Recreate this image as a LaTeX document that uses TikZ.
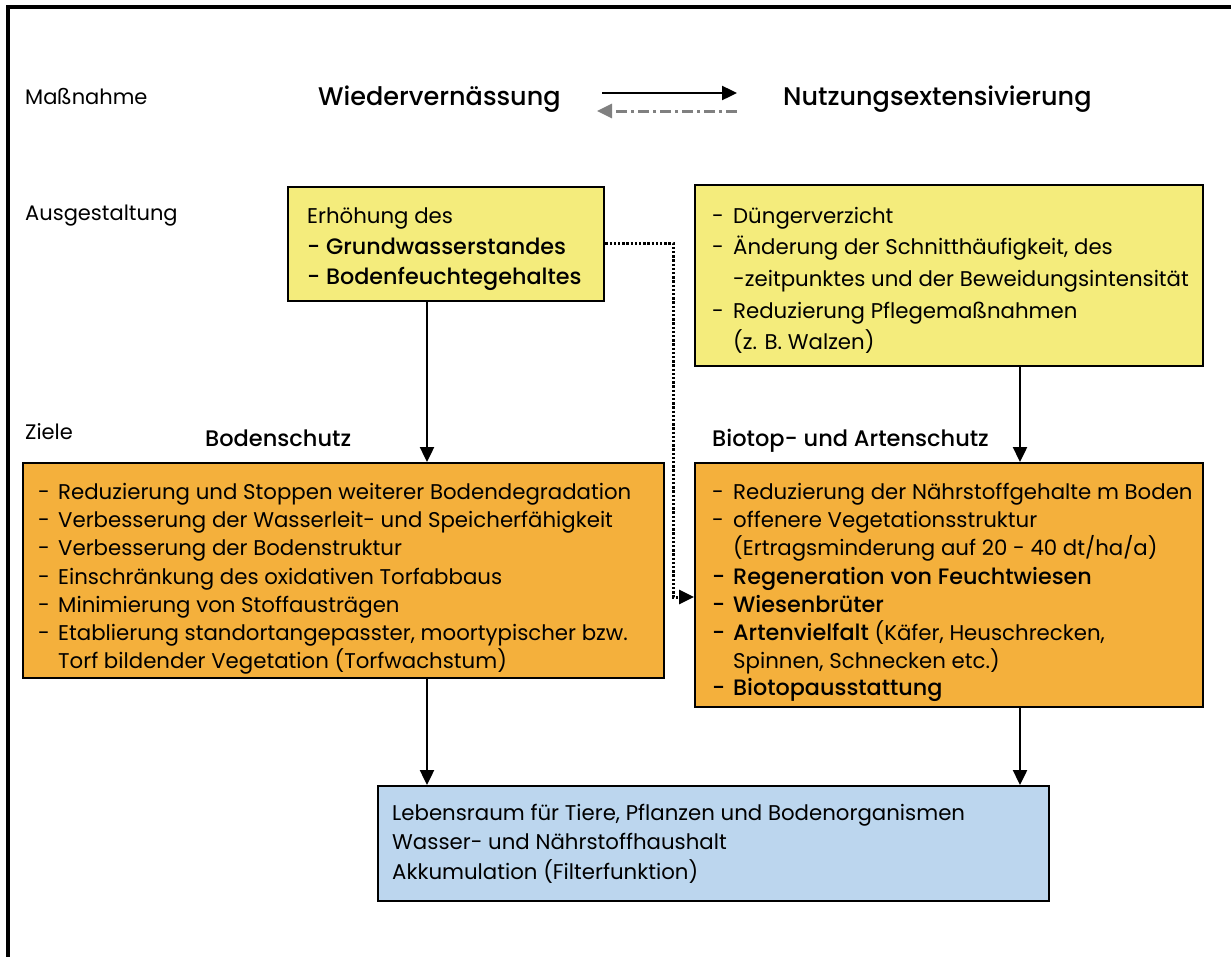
\documentclass[tikz,border=0pt]{standalone}
\usepackage{fontspec}
\setmainfont{Poppins}
\newfontfamily\med{Poppins Medium}
\usetikzlibrary{arrows.meta}
\definecolor{yel}{RGB}{244,236,124}
\definecolor{ora}{RGB}{244,176,60}
\definecolor{blu}{RGB}{188,214,238}
\definecolor{gry}{RGB}{128,128,128}
\tikzset{
  box/.style={draw=black, line width=2.4pt, anchor=north west, inner sep=0pt},
  txt/.style={anchor=base west, inner sep=0pt, font=\fontsize{21.3}{24}\selectfont},
  btxt/.style={anchor=base west, inner sep=0pt, font=\fontsize{22.3}{24}\selectfont\med},
  lbl/.style={anchor=base west, inner sep=0pt, font=\fontsize{21}{24}\selectfont},
  head/.style={anchor=base west, inner sep=0pt, font=\fontsize{25.5}{28}\selectfont\med},
  sub/.style={anchor=base west, inner sep=0pt, font=\fontsize{22.5}{26}\selectfont\med},
  arr/.style={line width=2.4pt, -{Triangle[length=15pt,width=14pt]}},
  dotline/.style={line width=3pt, dash pattern=on 2.4pt off 1.8pt, -{Triangle[length=15pt,width=14pt]}},
  dashdotarr/.style={line width=3pt, gry, dash pattern=on 11pt off 4pt on 3pt off 4pt, -{Triangle[length=15pt,width=14pt]}}
}
\newcommand{\dsh}{\makebox[21pt][l]{-}}
\begin{document}
\begin{tikzpicture}[x=1pt,y=-1pt]
\useasboundingbox (0,0) rectangle (1231,956);
% outer frame
\draw[line width=3.6pt] (8,1100) -- (8,7) -- (1400,7);

% row labels
\node[lbl] (lmass) at (25,104) {Maßnahme};
\node[lbl] (lausg) at (25,220) {Ausgestaltung};
\node[lbl] (lziel) at (25,439) {Ziele};

% top row
\node[head] (wied) at (318,105) {Wiedervernässung};
\node[head] (nutz) at (783,105) {Nutzungsextensivierung};
\coordinate (a1) at (602,93);
\coordinate (a2) at (737,93);
\coordinate (b1) at (737,111);
\coordinate (b2) at (597,111);
\draw[arr] (a1) -- (a2);
\draw[dashdotarr] (b1) -- (b2);

% boxes
\node[box, fill=yel, minimum width=316pt, minimum height=114pt] (y1) at (287,186) {};
\node[box, fill=yel, minimum width=508pt, minimum height=181pt] (y2) at (694,184) {};
\node[box, fill=ora, minimum width=641pt, minimum height=215pt] (o1) at (22,462) {};
\node[box, fill=ora, minimum width=508pt, minimum height=244pt] (o2) at (694,462) {};
\node[box, fill=blu, minimum width=671pt, minimum height=115pt] (bl) at (377,785) {};

% yellow 1 text
\node[txt] (y1a) at (307,223) {Erhöhung des};
\node[btxt] (y1b) at (307,254) {- Grundwasserstandes};
\node[btxt] (y1c) at (307,284) {- Bodenfeuchtegehaltes};

% yellow 2 text
\node[txt] (y2a) at (712,223) {\dsh Düngerverzicht};
\node[txt] (y2b) at (712,254) {\dsh Änderung der Schnitthäufigkeit, des};
\node[txt] (y2c) at (733,286) {-zeitpunktes und der Beweidungsintensität};
\node[txt] (y2d) at (712,318) {\dsh Reduzierung Pflegemaßnahmen};
\node[txt] (y2e) at (733,349) {(z. B. Walzen)};

% headings
\node[sub] (bs) at (205,446) {Bodenschutz};
\node[sub] (bas) at (712,446) {Biotop- und Artenschutz};

% orange 1 text
\node[txt] (o1a) at (38,499) {\makebox[20pt][l]{-}Reduzierung und Stoppen weiterer Bodendegradation};
\node[txt] (o1b) at (38,527) {\makebox[20pt][l]{-}Verbesserung der Wasserleit- und Speicherfähigkeit};
\node[txt] (o1c) at (38,555) {\makebox[20pt][l]{-}Verbesserung der Bodenstruktur};
\node[txt] (o1d) at (38,584) {\makebox[20pt][l]{-}Einschränkung des oxidativen Torfabbaus};
\node[txt] (o1e) at (38,612) {\makebox[20pt][l]{-}Minimierung von Stoffausträgen};
\node[txt] (o1f) at (38,640) {\makebox[20pt][l]{-}Etablierung standortangepasster, moortypischer bzw.};
\node[txt] (o1g) at (58,668) {Torf bildender Vegetation (Torfwachstum)};

% orange 2 text
\node[txt] (o2a) at (712,499) {\dsh Reduzierung der Nährstoffgehalte m Boden};
\node[txt] (o2b) at (712,527) {\dsh offenere Vegetationsstruktur};
\node[txt] (o2c) at (733,555) {(Ertragsminderung auf 20 - 40 dt/ha/a)};
\node[btxt] (o2d) at (712,584) {\dsh Regeneration von Feuchtwiesen};
\node[btxt] (o2e) at (712,612) {\dsh Wiesenbrüter};
\node[txt] (o2f) at (712,640) {{\fontsize{22.3}{24}\selectfont\med\dsh Artenvielfalt} (Käfer, Heuschrecken,};
\node[txt] (o2g) at (733,668) {Spinnen, Schnecken etc.)};
\node[btxt] (o2h) at (712,695) {\dsh Biotopausstattung};

% blue text
\node[txt] (bla) at (392,820) {Lebensraum für Tiere, Pflanzen und Bodenorganismen};
\node[txt] (blb) at (392,849) {Wasser- und Nährstoffhaushalt};
\node[txt] (blc) at (392,879) {Akkumulation (Filterfunktion)};

% connectors
\coordinate (cL) at (427,0);
\coordinate (cR) at (1020,0);
\draw[arr] (y1.south -| cL) -- (o1.north -| cL);
\draw[arr] (y2.south -| cR) -- (o2.north -| cR);
\draw[arr] (o1.south -| cL) -- (bl.north -| cL);
\draw[arr] (o2.south -| cR) -- (bl.north -| cR);
\coordinate (d1) at (673,243);
\coordinate (d2) at (673,597);
\draw[dotline] (y1.east |- d1) -- (d1) -- (d2) -- (o2.west |- d2);
\end{tikzpicture}
\end{document}
